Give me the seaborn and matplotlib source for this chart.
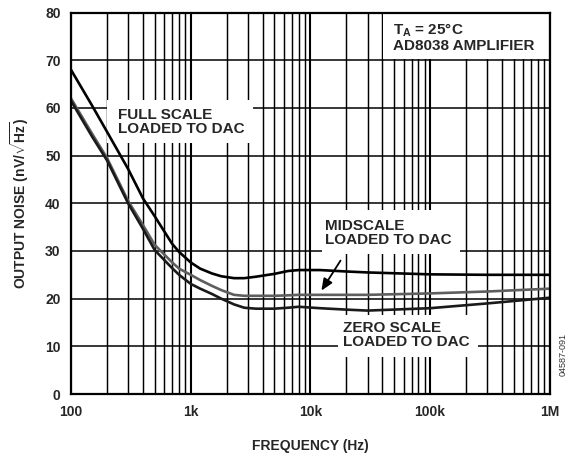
import numpy as np
import pandas as pd
import matplotlib
matplotlib.use("Agg")
import matplotlib.pyplot as plt
from matplotlib.patches import Rectangle
import seaborn as sns

# ---- data ----
freq = [100, 150, 200, 300, 400, 500, 700, 800, 1000, 1200, 1500, 1800, 2300, 2800,
        3500, 5000, 6500, 8000, 12000, 20000, 30000, 100000, 300000, 1000000]
full_scale = [68.0, 60.5, 55.0, 47.2, 41.0, 37.3, 31.5, 29.8, 27.6, 26.3, 25.3, 24.7,
              24.3, 24.3, 24.6, 25.2, 25.8, 26.0, 26.0, 25.7, 25.5, 25.1, 25.0, 25.0]
midscale = [62.0, 54.6, 49.5, 40.5, 35.4, 31.3, 27.6, 26.3, 25.0, 23.9, 22.7, 21.8,
            20.8, 20.6, 20.6, 20.6, 20.7, 20.8, 20.8, 20.8, 20.8, 21.1, 21.5, 22.1]
zero_scale = [61.5, 54.0, 49.0, 40.0, 34.6, 30.2, 26.4, 25.0, 23.1, 22.1, 21.0, 20.0,
              18.8, 18.1, 17.9, 17.9, 18.1, 18.3, 18.0, 17.7, 17.5, 18.0, 19.0, 20.2]
curve_names = ["FULL SCALE", "MIDSCALE", "ZERO SCALE"]
x_ticks = [100, 1000, 10000, 100000, 1000000]
x_tick_labels = ["100", "1k", "10k", "100k", "1M"]
y_ticks = [0, 10, 20, 30, 40, 50, 60, 70, 80]

df = pd.concat([
    pd.DataFrame({"freq": freq, "noise": vals, "curve": name})
    for name, vals in zip(curve_names, [full_scale, midscale, zero_scale])
], ignore_index=True)

sns.set_style("white")
plt.rcParams["font.family"] = ["Liberation Sans", "DejaVu Sans"]
plt.rcParams["mathtext.fontset"] = "custom"
plt.rcParams["mathtext.rm"] = "Liberation Sans"
plt.rcParams["mathtext.bf"] = "Liberation Sans:bold"
plt.rcParams["mathtext.it"] = "Liberation Sans:italic"

fig = plt.figure(figsize=(5.73, 4.58), dpi=100)
ax = fig.add_axes([0.1239, 0.1397, 0.8356, 0.8328])

palette = {"FULL SCALE": "#000000", "MIDSCALE": "#5e5e5e", "ZERO SCALE": "#1a1a1a"}
sns.lineplot(data=df, x="freq", y="noise", hue="curve", palette=palette,
             legend=False, linewidth=1.9, ax=ax, zorder=3, sort=False)

ax.set_xscale("log")
ax.set_xlim(100, 1e6)
ax.set_ylim(0, 80)
ax.set_xticks(x_ticks)
ax.set_xticklabels(x_tick_labels)
ax.set_yticks(y_ticks)
ax.xaxis.set_minor_locator(matplotlib.ticker.LogLocator(base=10, subs=np.arange(2, 10)))
ax.xaxis.set_minor_formatter(matplotlib.ticker.NullFormatter())
ax.tick_params(which="both", length=0)
ax.tick_params(axis="x", pad=8, labelsize=10)
ax.tick_params(axis="y", pad=7.5, labelsize=10)
for lab in ax.get_xticklabels() + ax.get_yticklabels():
    lab.set_fontweight("bold")

ax.set_axisbelow(True)
ax.grid(which="major", axis="x", color="black", linewidth=1.5)
ax.grid(which="major", axis="y", color="black", linewidth=1.1)
ax.grid(which="minor", axis="x", color="black", linewidth=1.05)
for sp in ax.spines.values():
    sp.set_linewidth(1.6)
    sp.set_color("black")
    sp.set_zorder(4)

ax.set_xlabel("FREQUENCY (Hz)", fontsize=10, fontweight="bold", labelpad=14)
ax.set_ylabel(r"OUTPUT NOISE (nV/$\sqrt{\mathbf{Hz}}$)", fontsize=10,
              fontweight="bold", labelpad=10)

# white label backgrounds (hide grid)
for (x0, y0, w, h) in [(0.0752, 0.658, 0.305, 0.1127),
                       (0.652, 0.878, 0.345, 0.120),
                       (0.524, 0.367, 0.288, 0.115),
                       (0.558, 0.097, 0.292, 0.110)]:
    ax.add_patch(Rectangle((x0, y0), w, h, transform=ax.transAxes,
                           facecolor="white", edgecolor="none", zorder=2))

tkw = dict(transform=ax.transAxes, fontsize=11, fontweight="bold",
           ha="left", va="center", zorder=5, linespacing=1.0)
ax.text(0.098, 0.714, "FULL SCALE\nLOADED TO DAC", **tkw)
ax.text(0.672, 0.936, "$\\mathbf{T_A}$ = 25°C\nAD8038 AMPLIFIER", **tkw)
ax.text(0.530, 0.421, "MIDSCALE\nLOADED TO DAC", **tkw)
ax.text(0.568, 0.155, "ZERO SCALE\nLOADED TO DAC", **tkw)

ax.annotate("", xy=(0.520, 0.265), xytext=(0.566, 0.356),
            xycoords="axes fraction", textcoords="axes fraction",
            arrowprops=dict(arrowstyle="-|>,head_length=0.7,head_width=0.3",
                            color="black", lw=1.3), zorder=5)

fig.text(0.9825, 0.225, "04587-091", rotation=90, fontsize=6.5, color="#333333",
         ha="center", va="center")

fig.savefig("out.png", dpi=100)
